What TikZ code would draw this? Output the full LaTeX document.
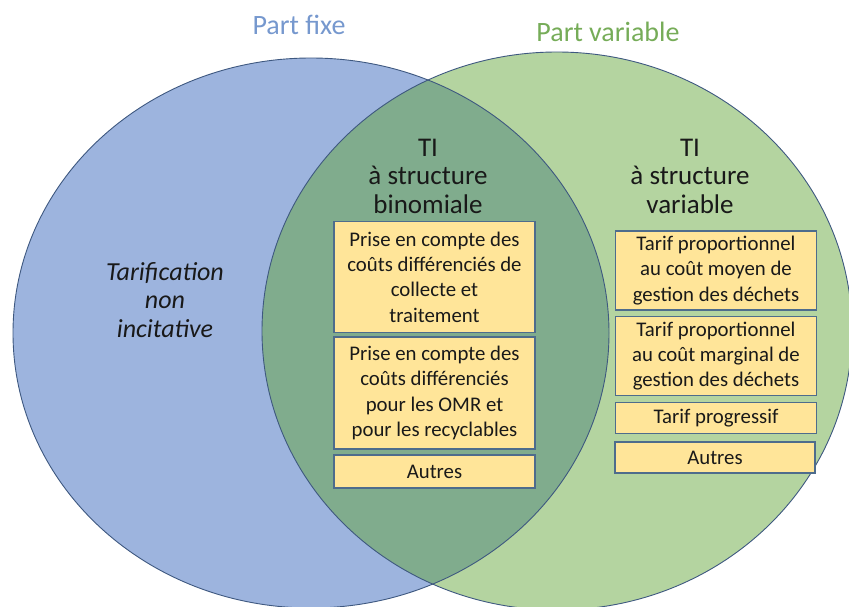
\documentclass[tikz,border=0pt]{standalone}
\usepackage{fontspec}
\setmainfont{Carlito}
\definecolor{blueFill}{RGB}{157,180,222}
\definecolor{greenFill}{RGB}{180,212,160}
\definecolor{darkFill}{RGB}{128,172,141}
\definecolor{rimCol}{RGB}{62,88,128}
\definecolor{boxFill}{RGB}{255,229,153}
\definecolor{boxLine}{RGB}{78,108,140}
\definecolor{blueText}{RGB}{118,152,206}
\definecolor{greenText}{RGB}{118,172,88}
\definecolor{inkCol}{RGB}{25,25,25}
\begin{document}
\begin{tikzpicture}[x=1pt,y=-1pt,
		every node/.style={text=inkCol, align=center, font=\fontsize{20.8}{25.3}\selectfont},
		head/.style={font=\fontsize{27}{28.5}\selectfont},
		ebox/.style={draw=boxLine, fill=boxFill, line width=1.2pt, inner sep=0pt, minimum width=201pt},
		rim/.style={draw=rimCol, line width=0.9pt}]
			\useasboundingbox (0,0) rectangle (849,607);
			\clip (0,0) rectangle (849,607);
			\fill[blueFill] (311,333) ellipse [x radius=298pt, y radius=275pt];
			\fill[greenFill] (557,331) ellipse [x radius=295pt, y radius=279pt];
			\begin{scope}
				\clip (311,333) ellipse [x radius=298pt, y radius=275pt];
				\fill[darkFill] (557,331) ellipse [x radius=295pt, y radius=279pt];
			\end{scope}
			\draw[rim] (311,333) ellipse [x radius=298pt, y radius=275pt];
			\draw[rim] (557,331) ellipse [x radius=295pt, y radius=279pt];
			\node[head, font=\fontsize{28}{30}\selectfont, text=blueText] (fixe) at (299,25) {Part fixe};
			\node[head, font=\fontsize{28}{30}\selectfont, text=greenText] (variable) at (608,32) {Part variable};
			\node[head, font=\fontsize{26}{28.5}\selectfont\itshape] (nonincit) at (165,300) {Tarification\\non\\incitative};
			\node[head] (binom) at (428,176) {TI\\à structure\\binomiale};
			\node[head] (struct) at (690,176) {TI\\à structure\\variable};
				\node[ebox, minimum height=111pt] (collecte) at (434.5,277) {Prise en compte des\\coûts différenciés de\\collecte et\\traitement};
				\node[ebox, minimum height=112pt] (omr) at (434.5,393) {Prise en compte des\\coûts différenciés\\pour les OMR et\\pour les recyclables};
				\node[ebox, minimum height=33pt] (autresA) at (434.5,471.5) {Autres};
				\node[ebox, minimum height=79pt] (moyen) at (716,270.5) {Tarif proportionnel\\au coût moyen de\\gestion des déchets};
				\node[ebox, minimum height=79pt] (marginal) at (716,356) {Tarif proportionnel\\au coût marginal de\\gestion des déchets};
				\node[ebox, minimum height=31pt] (progressif) at (716,418) {Tarif progressif};
				\node[ebox, minimum height=31pt, minimum width=200pt] (autresB) at (715,457.5) {Autres};
		\end{tikzpicture}
\end{document}
